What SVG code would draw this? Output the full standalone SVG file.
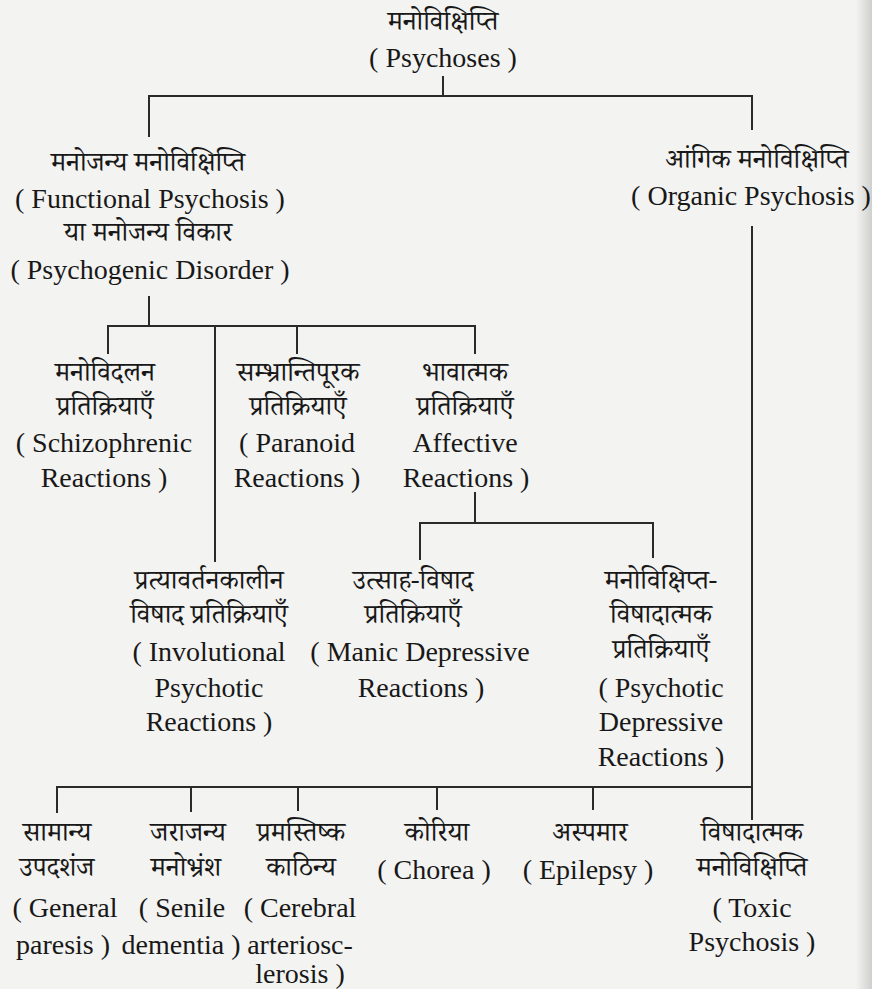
<svg xmlns="http://www.w3.org/2000/svg" width="872" height="989" viewBox="0 0 872 989">
<defs>
<linearGradient id="edge" x1="0" x2="1" y1="0" y2="0"><stop offset="0" stop-color="#f3f3f1"/><stop offset="1" stop-color="#cfcfcd"/></linearGradient>
</defs>
<rect width="872" height="989" fill="#f3f3f1"/>
<rect x="856" width="16" height="989" fill="url(#edge)"/>
<g id="connectors" stroke="#2a2a2a" stroke-width="2" fill="none">
<line x1="443" y1="76" x2="443" y2="96"/>
<line x1="148" y1="96" x2="753" y2="96"/>
<line x1="149" y1="95" x2="149" y2="137"/>
<line x1="752" y1="95" x2="752" y2="130"/>
<line x1="752" y1="226" x2="752" y2="820"/>
<line x1="149" y1="296" x2="149" y2="326"/>
<line x1="107" y1="326" x2="476" y2="326"/>
<line x1="108" y1="325" x2="108" y2="354"/>
<line x1="215" y1="325" x2="215" y2="562"/>
<line x1="297" y1="325" x2="297" y2="354"/>
<line x1="475" y1="325" x2="475" y2="354"/>
<line x1="475" y1="492" x2="475" y2="523"/>
<line x1="419" y1="523" x2="654" y2="523"/>
<line x1="420" y1="522" x2="420" y2="560"/>
<line x1="653" y1="522" x2="653" y2="558"/>
<line x1="56" y1="787" x2="753" y2="787"/>
<line x1="57" y1="786" x2="57" y2="813"/>
<line x1="191" y1="786" x2="191" y2="812"/>
<line x1="298" y1="786" x2="298" y2="811"/>
<line x1="437" y1="786" x2="437" y2="810"/>
<line x1="593" y1="786" x2="593" y2="810"/>
</g>
<g fill="#181818" text-anchor="middle">
<g id="psychoses"><text font-family="Noto Serif Devanagari" font-size="27" x="443" y="30">मनोविक्षिप्ति</text><text font-family="Liberation Serif" font-size="28" x="443" y="67">( Psychoses )</text></g>
<g id="functional"><text font-family="Noto Serif Devanagari" font-size="27" x="148" y="171">मनोजन्य मनोविक्षिप्ति</text><text font-family="Liberation Serif" font-size="28" x="150" y="208">( Functional Psychosis )</text><text font-family="Noto Serif Devanagari" font-size="27" x="148" y="241">या मनोजन्य विकार</text><text font-family="Liberation Serif" font-size="28" x="150" y="279">( Psychogenic Disorder )</text></g>
<g id="organic"><text font-family="Noto Serif Devanagari" font-size="27" x="757" y="168">आंगिक मनोविक्षिप्ति</text><text font-family="Liberation Serif" font-size="28" x="751" y="205">( Organic Psychosis )</text></g>
<g id="schizophrenic"><text font-family="Noto Serif Devanagari" font-size="27" x="105" y="381">मनोविदलन</text><text font-family="Noto Serif Devanagari" font-size="27" x="105" y="415">प्रतिक्रियाएँ</text><text font-family="Liberation Serif" font-size="28" x="104" y="452">( Schizophrenic</text><text font-family="Liberation Serif" font-size="28" x="104" y="487">Reactions )</text></g>
<g id="paranoid"><text font-family="Noto Serif Devanagari" font-size="27" x="298" y="381">सम्भ्रान्तिपूरक</text><text font-family="Noto Serif Devanagari" font-size="27" x="298" y="415">प्रतिक्रियाएँ</text><text font-family="Liberation Serif" font-size="28" x="297" y="452">( Paranoid</text><text font-family="Liberation Serif" font-size="28" x="297" y="487">Reactions )</text></g>
<g id="affective"><text font-family="Noto Serif Devanagari" font-size="27" x="465" y="381">भावात्मक</text><text font-family="Noto Serif Devanagari" font-size="27" x="465" y="415">प्रतिक्रियाएँ</text><text font-family="Liberation Serif" font-size="28" x="465" y="452">Affective</text><text font-family="Liberation Serif" font-size="28" x="466" y="487">Reactions )</text></g>
<g id="involutional"><text font-family="Noto Serif Devanagari" font-size="27" x="209" y="589">प्रत्यावर्तनकालीन</text><text font-family="Noto Serif Devanagari" font-size="27" x="209" y="623">विषाद प्रतिक्रियाएँ</text><text font-family="Liberation Serif" font-size="28" x="209" y="661">( Involutional</text><text font-family="Liberation Serif" font-size="28" x="209" y="697">Psychotic</text><text font-family="Liberation Serif" font-size="28" x="209" y="731">Reactions )</text></g>
<g id="manic"><text font-family="Noto Serif Devanagari" font-size="27" x="413" y="589">उत्साह-विषाद</text><text font-family="Noto Serif Devanagari" font-size="27" x="413" y="623">प्रतिक्रियाएँ</text><text font-family="Liberation Serif" font-size="28" x="420" y="661">( Manic Depressive</text><text font-family="Liberation Serif" font-size="28" x="421" y="697">Reactions )</text></g>
<g id="psychotic-depressive"><text font-family="Noto Serif Devanagari" font-size="27" x="661" y="589">मनोविक्षिप्त-</text><text font-family="Noto Serif Devanagari" font-size="27" x="661" y="623">विषादात्मक</text><text font-family="Noto Serif Devanagari" font-size="27" x="661" y="658">प्रतिक्रियाएँ</text><text font-family="Liberation Serif" font-size="28" x="661" y="697">( Psychotic</text><text font-family="Liberation Serif" font-size="28" x="661" y="731">Depressive</text><text font-family="Liberation Serif" font-size="28" x="661" y="766">Reactions )</text></g>
<g id="general-paresis"><text font-family="Noto Serif Devanagari" font-size="27" x="57" y="841">सामान्य</text><text font-family="Noto Serif Devanagari" font-size="27" x="57" y="876">उपदशंज</text><text font-family="Liberation Serif" font-size="28" x="65" y="917">( General</text><text font-family="Liberation Serif" font-size="28" x="63" y="954">paresis )</text></g>
<g id="senile-dementia"><text font-family="Noto Serif Devanagari" font-size="27" x="188" y="841">जराजन्य</text><text font-family="Noto Serif Devanagari" font-size="27" x="186" y="876">मनोभ्रंश</text><text font-family="Liberation Serif" font-size="28" x="182" y="917">( Senile</text><text font-family="Liberation Serif" font-size="28" x="181" y="954">dementia )</text></g>
<g id="cerebral"><text font-family="Noto Serif Devanagari" font-size="27" x="301" y="841">प्रमस्तिष्क</text><text font-family="Noto Serif Devanagari" font-size="27" x="301" y="876">काठिन्य</text><text font-family="Liberation Serif" font-size="28" x="300" y="917">( Cerebral</text><text font-family="Liberation Serif" font-size="28" x="300" y="954">arteriosc-</text><text font-family="Liberation Serif" font-size="28" x="300" y="983">lerosis )</text></g>
<g id="chorea"><text font-family="Noto Serif Devanagari" font-size="27" x="437" y="841">कोरिया</text><text font-family="Liberation Serif" font-size="28" x="434" y="879">( Chorea )</text></g>
<g id="epilepsy"><text font-family="Noto Serif Devanagari" font-size="27" x="590" y="841">अस्पमार</text><text font-family="Liberation Serif" font-size="28" x="588" y="879">( Epilepsy )</text></g>
<g id="toxic"><text font-family="Noto Serif Devanagari" font-size="27" x="752" y="841">विषादात्मक</text><text font-family="Noto Serif Devanagari" font-size="27" x="752" y="876">मनोविक्षिप्ति</text><text font-family="Liberation Serif" font-size="28" x="752" y="917">( Toxic</text><text font-family="Liberation Serif" font-size="28" x="752" y="951">Psychosis )</text></g>
</g>
</svg>
